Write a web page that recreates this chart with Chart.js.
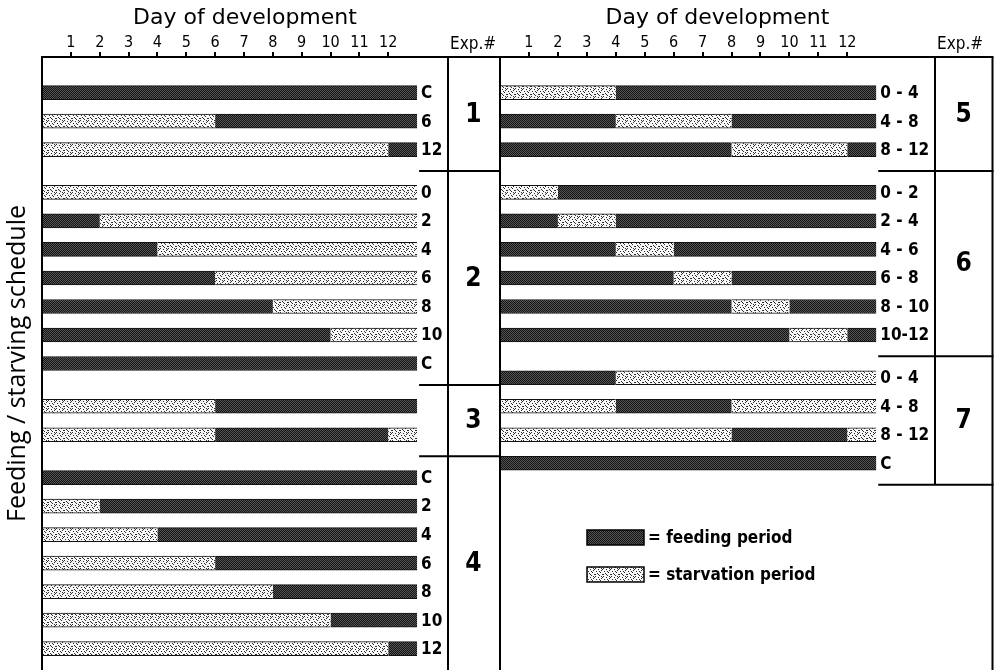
<!DOCTYPE html>
<html><head><meta charset="utf-8">
<script src="https://cdn.jsdelivr.net/npm/chart.js@4.4.1/dist/chart.umd.min.js"></script>
<style>
html,body{margin:0;padding:0;background:#fff;}
#wrap{position:relative;width:997px;height:670px;overflow:hidden;background:#fff;}
canvas{position:absolute;top:0;}
#left{left:0;} #right{left:499px;}
</style></head><body>
<div id="wrap"><canvas id="left" width="499" height="670"></canvas><canvas id="right" width="498" height="670"></canvas></div>
<script>
// ---------- data ----------
const dayTicks = [1,2,3,4,5,6,7,8,9,10,11,12];
const scheduleEnd = 13;
const axisTitle = 'Day of development';
const yTitle = 'Feeding / starving schedule';
const expHeader = 'Exp.#';
const legendTexts = ['= feeding period', '= starvation period'];

// left panel (starvation intervals in days; rest of 0–13 is feeding)
const exp1Labels = ['C','6','12'];
const exp1Starve = [[], [[0,6]], [[0,12]]];
const exp2Labels = ['0','2','4','6','8','10','C'];
const exp2Starve = [[[0,13]], [[2,13]], [[4,13]], [[6,13]], [[8,13]], [[10,13]], []];
const exp3Labels = ['',''];
const exp3Starve = [[[0,6]], [[0,6],[12,13]]];
const exp4Labels = ['C','2','4','6','8','10','12'];
const exp4Starve = [[], [[0,2]], [[0,4]], [[0,6]], [[0,8]], [[0,10]], [[0,12]]];
// right panel
const exp5Labels = ['0 - 4','4 - 8','8 - 12'];
const exp5Starve = [[[0,4]], [[4,8]], [[8,12]]];
const exp6Labels = ['0 - 2','2 - 4','4 - 6','6 - 8','8 - 10','10-12'];
const exp6Starve = [[[0,2]], [[2,4]], [[4,6]], [[6,8]], [[8,10]], [[10,12]]];
const exp7Labels = ['0 - 4','4 - 8','8 - 12','C'];
const exp7Starve = [[[4,13]], [[0,4],[8,13]], [[0,8],[12,13]], []];

// ---------- styling ----------
const FONT = "'DejaVu Sans Condensed', 'DejaVu Sans', sans-serif";
function makePattern(kind){
  const c = document.createElement('canvas');
  const x = c.getContext('2d');
  if (kind === 'feed') {
    c.width = 2; c.height = 2;
    x.fillStyle = '#141414'; x.fillRect(0,0,2,2);
    x.fillStyle = '#555'; x.fillRect(0,0,1,1); x.fillRect(1,1,1,1);
  } else {
    c.width = 8; c.height = 8;
    x.fillStyle = '#f7f7f7'; x.fillRect(0,0,8,8);
    x.fillStyle = '#2e2e2e';
    [[0,0],[3,1],[6,2],[1,3],[5,4],[2,5],[7,6],[4,7],[6,0],[3,6],[0,6],[4,3],[7,1]].forEach(([a,b]) => x.fillRect(a,b,1,1));
  }
  return x.createPattern(c, 'repeat');
}
const feedPat = makePattern('feed');
const starvePat = makePattern('starve');

function segmentsFor(starve){
  const segs = []; let t = 0;
  starve.forEach(([s,e]) => { if (s > t) segs.push([t,s,'feed']); segs.push([s,e,'starve']); t = e; });
  if (t < scheduleEnd) segs.push([t, scheduleEnd, 'feed']);
  return segs;
}

function buildPanel(groups, total){
  const labels = new Array(total).fill('');
  const rowLabels = [], groupInfo = [], segRows = [];
  let idx = 2;
  groups.forEach(g => {
    const first = idx;
    g.labels.forEach((lab, r) => {
      labels[idx] = lab;
      rowLabels.push({index: idx, text: lab});
      segRows[idx] = segmentsFor(g.starve[r]);
      idx += 2;
    });
    groupInfo.push({exp: g.exp, first, last: idx - 2});
    idx += 1;
  });
  const maxSeg = Math.max(...segRows.filter(Boolean).map(s => s.length));
  const datasets = [];
  for (let k = 0; k < maxSeg; k++) {
    const data = labels.map((_, i) => segRows[i] && segRows[i][k] ? [segRows[i][k][0], segRows[i][k][1]] : null);
    const bg = labels.map((_, i) => segRows[i] && segRows[i][k] ? (segRows[i][k][2] === 'feed' ? feedPat : starvePat) : 'rgba(0,0,0,0)');
    datasets.push({label: 'segment ' + (k+1), data, backgroundColor: bg, borderColor: '#111',
      borderWidth: {top: 1, bottom: 1, left: 0, right: 0}, borderSkipped: false,
      barThickness: 14, grouped: false});
  }
  return {labels, datasets, rowLabels, groupInfo};
}

const panels = {};

const framePlugin = {
  id: 'frame',
  afterDatasetsDraw(chart, args, opts){
    const p = panels[chart.canvas.id];
    if (!p) return;
    const {ctx, chartArea: ca, scales: {x, y}} = chart;
    const endX = x.getPixelForValue(scheduleEnd);
    const colL = ca.right, colR = opts.colRight;
    const gi = p.groupInfo;
    ctx.save();
    ctx.strokeStyle = '#000'; ctx.lineWidth = 2;
    const line = (x1,y1,x2,y2) => { ctx.beginPath(); ctx.moveTo(x1,y1); ctx.lineTo(x2,y2); ctx.stroke(); };
    // top line & left border
    line(ca.left - 1, ca.top, colR + 1, ca.top);
    line(ca.left, ca.top, ca.left, ca.bottom);
    // separators
    const seps = gi.map(g => y.getPixelForValue(g.last + 1.5));
    const colBottom = opts.closeLast ? seps[seps.length - 1] : ca.bottom;
    seps.forEach((s, i) => { if (i < seps.length - 1 || opts.closeLast) line(endX + 2, s, colR + 1, s); });
    line(colL, ca.top, colL, colBottom);
    if (opts.drawRight) line(colR, ca.top, colR, ca.bottom);
    // exp numbers
    ctx.fillStyle = '#000'; ctx.textAlign = 'center'; ctx.textBaseline = 'middle';
    ctx.font = 'bold 26px ' + FONT;
    gi.forEach((g, i) => {
      const top = i === 0 ? ca.top : seps[i-1];
      const bot = i === gi.length - 1 ? colBottom : seps[i];
      ctx.fillText(String(g.exp), (colL + colR) / 2, (top + bot) / 2 + 1);
    });
    // header
    ctx.font = '17px ' + FONT; ctx.textAlign = 'left';
    ctx.fillText(expHeader, colL + 2, ca.top - 12);
    // row labels
    ctx.font = 'bold 17px ' + FONT;
    p.rowLabels.forEach(r => { if (r.text) ctx.fillText(r.text, endX + 4, y.getPixelForValue(r.index) + 1); });
    // legend
    if (opts.legend) {
      const L = opts.legend;
      [feedPat, starvePat].forEach((pat, i) => {
        const yy = L.y + i * L.gap;
        ctx.fillStyle = pat; ctx.fillRect(L.x, yy, L.w, L.h);
        ctx.lineWidth = 1.5; ctx.strokeRect(L.x, yy, L.w, L.h);
        ctx.fillStyle = '#000'; ctx.font = 'bold 17px ' + FONT; ctx.textAlign = 'left';
        ctx.fillText(legendTexts[i], L.x + L.w + 4, yy + L.h / 2 + 1);
      });
    }
    ctx.restore();
  }
};

function makeChart(canvasId, panel, xMax, opts){
  panels[canvasId] = panel;
  const yWidth = opts.showYTitle ? 42 : 0;
  return new Chart(document.getElementById(canvasId), {
    type: 'bar',
    data: {labels: panel.labels, datasets: panel.datasets},
    options: {
      indexAxis: 'y', responsive: false, animation: false, devicePixelRatio: 1,
      layout: {padding: {left: opts.padLeft, right: opts.padRight, top: 0, bottom: 0}},
      plugins: {legend: {display: false}, tooltip: {enabled: false},
        frame: {colRight: opts.colRight, closeLast: opts.closeLast, drawRight: opts.drawRight, legend: opts.legend}},
      scales: {
        x: {type: 'linear', position: 'top', min: 0, max: xMax,
          afterBuildTicks: s => { s.ticks = dayTicks.map(v => ({value: v})); },
          afterFit: s => { s.height = 57; },
          ticks: {color: '#000', font: {family: FONT, size: 16}, padding: 0, autoSkip: false, maxRotation: 0},
          grid: {display: true, drawOnChartArea: false, drawTicks: true, tickLength: 5, color: '#000', lineWidth: 2},
          border: {display: false},
          title: {display: true, text: axisTitle, color: '#000', font: {family: "'DejaVu Sans', sans-serif", size: 22}, padding: {top: 5, bottom: 0}}
        },
        y: {type: 'category', display: opts.showYTitle,
          afterFit: s => { s.width = yWidth; },
          ticks: {display: false}, grid: {display: false}, border: {display: false},
          title: {display: true, text: yTitle, color: '#000', font: {family: "'Open Sans', sans-serif", size: 25}, padding: {top: 3, bottom: 0}}
        }
      }
    },
    plugins: [framePlugin]
  });
}

const leftPanel = buildPanel([
  {exp: 1, labels: exp1Labels, starve: exp1Starve},
  {exp: 2, labels: exp2Labels, starve: exp2Starve},
  {exp: 3, labels: exp3Labels, starve: exp3Starve},
  {exp: 4, labels: exp4Labels, starve: exp4Starve}
], 43);
const rightPanel = buildPanel([
  {exp: 5, labels: exp5Labels, starve: exp5Starve},
  {exp: 6, labels: exp6Labels, starve: exp6Starve},
  {exp: 7, labels: exp7Labels, starve: exp7Starve}
], 43);

makeChart('left', leftPanel, 14.07, {showYTitle: true, padLeft: 0, padRight: 51, colRight: 499, closeLast: false, drawRight: false});
makeChart('right', rightPanel, 15.03, {showYTitle: false, padLeft: 1, padRight: 62, colRight: 493.5, closeLast: true, drawRight: true,
  legend: {x: 88, y: 530, w: 57, h: 15, gap: 37}});
</script>
</body></html>
